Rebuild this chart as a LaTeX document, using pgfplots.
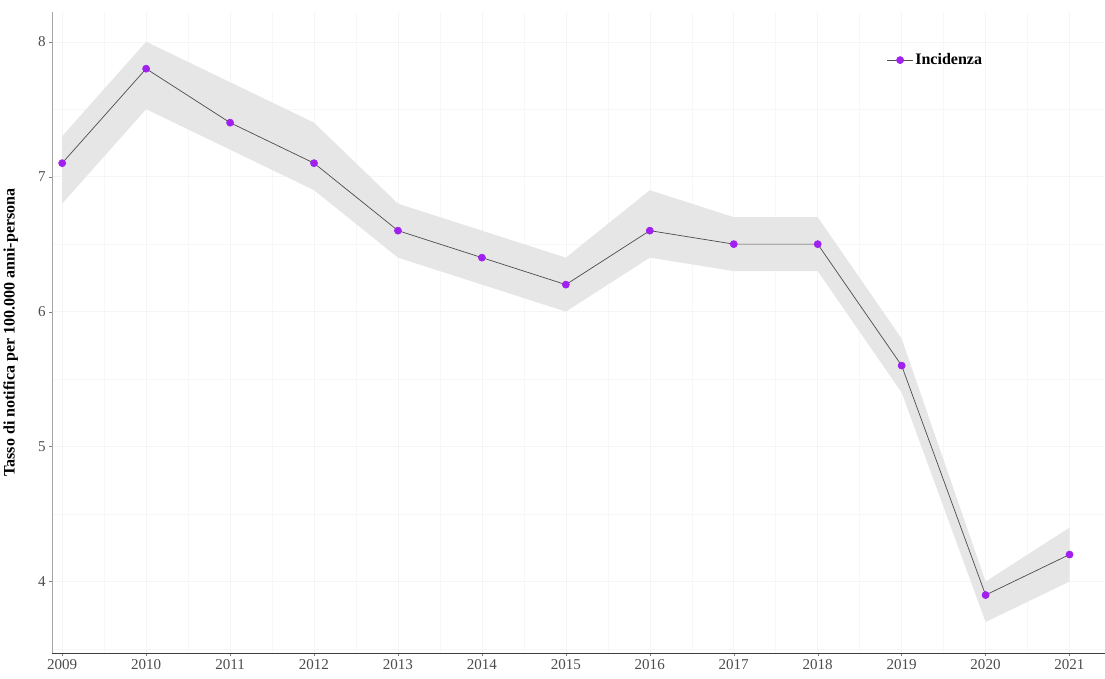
\documentclass[border=0pt]{standalone}
\usepackage{pgfplots}
\pgfplotsset{compat=1.18}
\usepgfplotslibrary{fillbetween}
\usepackage{fontspec}
\setmainfont{Liberation Serif}
\definecolor{band}{HTML}{E6E6E6}
\definecolor{pt}{HTML}{A020F0}
\begin{document}
\begin{tikzpicture}
\begin{axis}[
  scale only axis, width=1051pt, height=640pt,
  xmin=2008.88, xmax=2021.42, ymin=3.47, ymax=8.22,
  xtick={2009,...,2021}, ytick={4,5,6,7,8},
  minor xtick={2008.5,2009.5,...,2021.5}, minor ytick={3.5,4.5,...,7.5},
  xticklabel style={/pgf/number format/1000 sep=}, 
  /pgf/number format/assume math mode=true,
  axis x line*=bottom, axis y line*=left,
  x axis line style={black!75, -}, y axis line style={black!35, -},
  tick style={black!50}, major tick length=3pt, minor tick length=0pt,
  tick align=outside,
  xtick pos=bottom, ytick pos=left,
  grid=both, major grid style={black!4}, minor grid style={black!3},
  ticklabel style={font=\fontsize{15}{15}\selectfont, text=black!70},
  ylabel={\textbf{Tasso di notifica per 100.000 anni-persona}},
  ylabel style={font=\fontsize{16}{16}\selectfont, at={(axis description cs:-0.029,0.5)}},
  legend style={draw=none, fill=none, at={(0.79,0.925)}, anchor=west, font=\fontsize{16}{16}\selectfont\bfseries},
  legend cell align=left,
  legend image code/.code={\draw[#1, mark repeat=2, mark phase=2] plot coordinates {(0cm,0cm) (0.45cm,0cm) (0.9cm,0cm)};},
]
\coordinate (T) at (axis description cs:0,1);
\coordinate (B) at (axis description cs:0,0);
\addplot[name path=up, draw=none, forget plot] coordinates {
(2009,7.3)(2010,8.0)(2011,7.7)(2012,7.4)(2013,6.8)(2014,6.6)(2015,6.4)(2016,6.9)(2017,6.7)(2018,6.7)(2019,5.8)(2020,4.0)(2021,4.4)};
\addplot[name path=lo, draw=none, forget plot] coordinates {
(2009,6.8)(2010,7.5)(2011,7.2)(2012,6.9)(2013,6.4)(2014,6.2)(2015,6.0)(2016,6.4)(2017,6.3)(2018,6.3)(2019,5.4)(2020,3.7)(2021,4.0)};
\addplot[band, forget plot] fill between[of=up and lo];
\addplot[black!70, line width=0.7pt, mark=*, mark size=3.5pt, mark options={fill=pt, draw=pt}] coordinates {
(2009,7.1)(2010,7.8)(2011,7.4)(2012,7.1)(2013,6.6)(2014,6.4)(2015,6.2)(2016,6.6)(2017,6.5)(2018,6.5)(2019,5.6)(2020,3.9)(2021,4.2)};
\addlegendentry{Incidenza}
\end{axis}
\path (T) ++(0,12pt);
\path (B) ++(0,-25pt);
\end{tikzpicture}
\end{document}
